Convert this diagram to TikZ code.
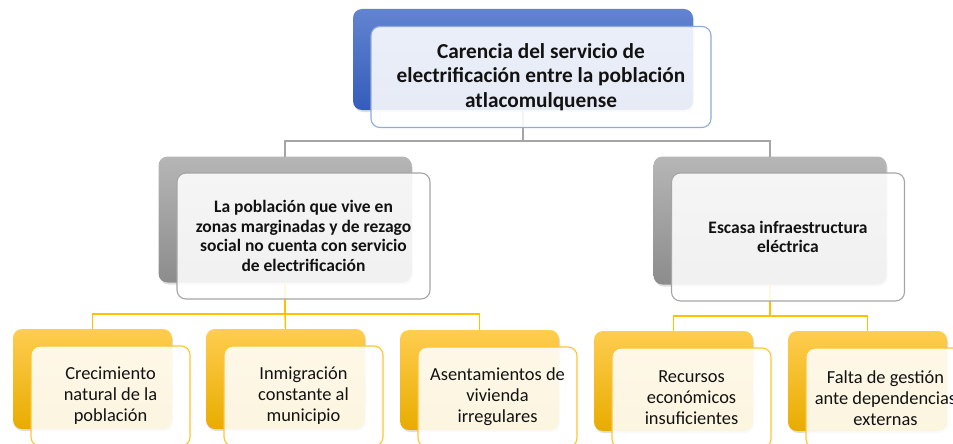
\documentclass[tikz,border=0pt]{standalone}
\usepackage{fontspec}
\setmainfont{Carlito}
\usetikzlibrary{shadows}
\definecolor{bluetop}{RGB}{98,132,208}
\definecolor{bluebot}{RGB}{52,92,186}
\definecolor{bluebd}{RGB}{143,170,220}
\definecolor{greytop}{RGB}{182,182,182}
\definecolor{greybot}{RGB}{140,140,140}
\definecolor{greybd}{RGB}{165,165,165}
\definecolor{yeltop}{RGB}{255,205,80}
\definecolor{yelmid}{RGB}{255,192,0}
\definecolor{yelbot}{RGB}{232,172,0}
\definecolor{yelbd}{RGB}{255,196,50}
\definecolor{txt}{RGB}{18,18,18}
\begin{document}
\begin{tikzpicture}[x=1pt,y=-1pt,
  box/.style={rectangle, rounded corners=9pt, inner sep=0pt, outer sep=0pt},
  backbox/.style={box, draw=none, drop shadow={opacity=0.25, shadow xshift=1pt, shadow yshift=-2pt}},
  frontbox/.style={box, line width=1.1pt, fill=white, fill opacity=0.88, text opacity=1, align=center, text=txt},
  bluebk/.style={backbox, top color=bluetop, bottom color=bluebot},
  greybk/.style={backbox, top color=greytop, bottom color=greybot},
  yelbk/.style={backbox, top color=yeltop, middle color=yelmid, bottom color=yelbot},
  bluefr/.style={frontbox, draw=bluebd, font=\bfseries\fontsize{21.3}{24.5}\selectfont},
  greyfr/.style={frontbox, draw=greybd, font=\bfseries\fontsize{17.5}{19.5}\selectfont},
  yelfr/.style={frontbox, draw=yelbd, font=\fontsize{18.4}{21}\selectfont},
  topsz/.style={minimum width=340pt, minimum height=101pt},
  lsz/.style={minimum width=253pt, minimum height=126pt},
  rsz/.style={minimum width=233pt, minimum height=128pt},
  ssz/.style={minimum width=159pt, minimum height=100pt},
  greyline/.style={draw=greybd, line width=1.4pt},
  yelline/.style={draw=yelmid, line width=1.4pt}
]
\useasboundingbox (0,0) rectangle (953,444);
\clip (0,0) rectangle (953,444);
% back shapes
\node[bluebk, topsz] (tb) at (523,59.5) {};
\node[greybk, lsz] (lb) at (285,219.5) {};
\node[greybk, rsz] (rb) at (770,220.5) {};
\node[yelbk, ssz] (b1) at (92.5,379) {};
\node[yelbk, ssz] (b2) at (285.5,379) {};
\node[yelbk, ssz] (b3) at (479.5,380) {};
\node[yelbk, ssz] (b4) at (673.5,381) {};
\node[yelbk, ssz] (b5) at (867.5,381) {};
% connectors
\coordinate (j1) at (523,141);
\coordinate (j2) at (285,314);
\coordinate (j3) at (770,316);
\draw[greyline] (tb.south) -- (j1);
\draw[greyline] (j1) -| (lb.north);
\draw[greyline] (j1) -| (rb.north);
\draw[yelline] (lb.south) -- (j2);
\draw[yelline] (j2) -| (b1.north);
\draw[yelline] (j2) -- (b2.north);
\draw[yelline] (j2) -| (b3.north);
\draw[yelline] (rb.south) -- (j3);
\draw[yelline] (j3) -| (b4.north);
\draw[yelline] (j3) -| (b5.north);
% front boxes
\node[bluefr, topsz] (tf) at (541,77) {Carencia del servicio de\\electrificación entre la población\\atlacomulquense};
\node[greyfr, lsz] (lf) at (303.5,236) {La población que vive en\\zonas marginadas y de rezago\\social no cuenta con servicio\\de electrificación};
\node[greyfr, rsz] (rf) at (788,237) {Escasa infraestructura\\eléctrica};
\node[yelfr, ssz] (f1) at (110.5,396) {Crecimiento\\natural de la\\población};
\node[yelfr, ssz] (f2) at (303.5,396) {Inmigración\\constante al\\municipio};
\node[yelfr, ssz] (f3) at (497.5,397) {Asentamientos de\\vivienda\\irregulares};
\node[yelfr, ssz] (f4) at (691.5,398) {Recursos\\económicos\\insuficientes};
\node[yelfr, ssz] (f5) at (885.5,398) {Falta de gestión\\ante dependencias\\externas};
\end{tikzpicture}
\end{document}
